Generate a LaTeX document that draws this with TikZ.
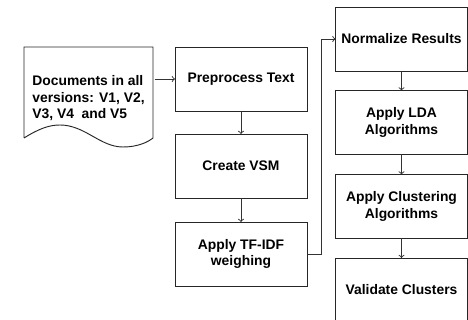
\documentclass[tikz,border=0pt]{standalone}
\usepackage{fontspec}
\setmainfont{Liberation Sans}
\usetikzlibrary{arrows}

\tikzset{
  stepbox/.style={draw=black!85, line width=0.7pt, rectangle, minimum width=99pt,
    minimum height=48pt, inner sep=0pt, outer sep=0pt, align=center,
    font=\fontsize{10.4}{12.4}\selectfont\bfseries},
  link/.style={draw=black!80, line width=0.7pt, ->, >=to},
}

\begin{document}
\begin{tikzpicture}[x=0.75pt, y=-0.75pt]
\useasboundingbox (0,0) rectangle (468,320);

% input document
\node[stepbox, draw=none, minimum height=60pt, align=left] (doc) at (88.5,98.5)
  {Documents in all\\versions: V1, V2,\\V3, V4~ and V5};
\draw[draw=black!85, line width=0.7pt] (24,138) -- (24,47) -- (153,47) -- (153,138)
  .. controls (148,142) and (138,147) .. (123,147)
  .. controls (100,147) and (85,125) .. (60,125)
  .. controls (50,125) and (40,128) .. (24,138);

% left column
\node[stepbox] (prep) at (241,79) {Preprocess Text};
\node[stepbox] (vsm) at (241,166) {Create VSM};
\node[stepbox] (tfidf) at (241,254) {Apply TF-IDF\\weighing};

% right column
\node[stepbox] (norm) at (401.5,39) {Normalize Results};
\node[stepbox] (lda) at (401.5,122.5) {Apply LDA\\Algorithms};
\node[stepbox] (clus) at (401.5,206.5) {Apply Clustering\\Algorithms};
\node[stepbox] (valid) at (401.5,290) {Validate Clusters};

\draw[link] (doc.east |- prep.west) -- (prep.west);
\draw[link] (prep) -- (vsm);
\draw[link] (vsm) -- (tfidf);
\draw[link] (tfidf.east) -- ++(14,0) |- (norm.west);
\draw[link] (norm) -- (lda);
\draw[link] (lda) -- (clus);
\draw[link] (clus) -- (valid);
\end{tikzpicture}
\end{document}
